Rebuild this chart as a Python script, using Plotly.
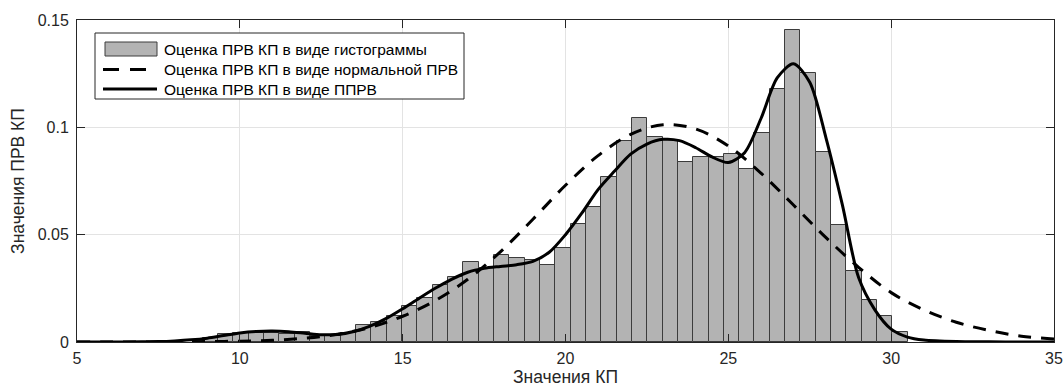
import plotly.graph_objects as go

# ---------------- data ----------------
bin_start = 8.858
bin_width = 0.4707
hist_values = [0.0020, 0.0039, 0.0044, 0.0042, 0.0044, 0.0038, 0.0045, 0.0027, 0.0027, 0.0040,
               0.0078, 0.0093, 0.0120, 0.0168, 0.0207, 0.0265, 0.0304, 0.0371, 0.0343, 0.0405,
               0.0393, 0.0382, 0.0358, 0.0439, 0.0548, 0.0630, 0.0768, 0.0938, 0.1042, 0.0956,
               0.0942, 0.0840, 0.0864, 0.0860, 0.0877, 0.0807, 0.0973, 0.1179, 0.1452, 0.1251,
               0.0883, 0.0543, 0.0330, 0.0194, 0.0121, 0.0045]

normal_x = [5, 6, 7, 8, 9, 10, 11, 12, 13, 14, 15, 16, 17, 18, 19, 20,
            21, 22, 23, 24, 25, 26, 27, 28, 29, 30, 31, 32, 33, 34, 35]
normal_y = [0.0000, 0.0000, 0.0000, 0.0001, 0.0002, 0.0004, 0.0008, 0.0018, 0.0036, 0.0068,
            0.0120, 0.0193, 0.0292, 0.0420, 0.0572, 0.0730, 0.0868, 0.0967, 0.1012, 0.0992,
            0.0913, 0.0787, 0.0638, 0.0486, 0.0348, 0.0230, 0.0150, 0.0092, 0.0054, 0.0027, 0.0014]

kde_x = [5, 6, 7, 7.5, 8, 8.5, 9, 9.5, 10, 10.5, 11, 11.5, 12, 12.5, 13, 13.5, 14, 14.5,
         15, 15.5, 16, 16.5, 17, 17.5, 18, 18.5, 19, 19.5, 20, 20.5, 21, 21.5, 22, 22.5,
         23, 23.5, 24, 24.5, 25, 25.5, 26, 26.5, 27, 27.5, 28, 28.5, 29, 29.5, 30, 30.5,
         31, 32, 33, 34, 35]
kde_y = [0.0000, 0.0000, 0.0001, 0.0002, 0.0005, 0.0010, 0.0018, 0.0030, 0.0042, 0.0049,
         0.0051, 0.0048, 0.0041, 0.0034, 0.0035, 0.0049, 0.0074, 0.0110, 0.0155, 0.0203,
         0.0250, 0.0292, 0.0325, 0.0343, 0.0352, 0.0360, 0.0376, 0.0418, 0.0500, 0.0600,
         0.0710, 0.0795, 0.0875, 0.0922, 0.0944, 0.0938, 0.0905, 0.0862, 0.0836, 0.0882,
         0.1040, 0.1230, 0.1296, 0.1210, 0.0950, 0.0640, 0.0300, 0.0150, 0.0060, 0.0023,
         0.0009, 0.0002, 0.0001, 0.0000, 0.0000]

legend_labels = ["Оценка ПРВ КП в виде гистограммы",
                 "Оценка ПРВ КП в виде нормальной ПРВ",
                 "Оценка ПРВ КП в виде ППРВ"]
x_title = "Значения КП"
y_title = "Значения ПРВ КП"
x_ticks = [5, 10, 15, 20, 25, 30, 35]
y_ticks = [0, 0.05, 0.1, 0.15]
y_ticklabels = ["0", "0.05", "0.1", "0.15"]

# ---------------- figure ----------------
centers = [bin_start + (i + 0.5) * bin_width for i in range(len(hist_values))]

FONT = "Liberation Sans, Arial, sans-serif"
TXT = "#262626"

fig = go.Figure()
fig.add_trace(go.Bar(x=centers, y=hist_values, width=bin_width,
                     marker=dict(color="#b3b3b3", line=dict(color="#3c3c3c", width=1)),
                     name=legend_labels[0]))
fig.add_trace(go.Scatter(x=normal_x, y=normal_y, mode="lines",
                         line=dict(color="black", width=3, dash="13px,10px", shape="spline"),
                         name=legend_labels[1]))
fig.add_trace(go.Scatter(x=kde_x, y=kde_y, mode="lines",
                         line=dict(color="black", width=3, shape="spline", smoothing=0.8),
                         name=legend_labels[2]))

L, R, T, B = 77, 1054, 20, 342          # plot box in page pixels
W, H = R - L, B - T
FIG_W, FIG_H = 1064, 390


def px_x(p):
    return (p - L) / W


def px_y(p):
    return (B - p) / H


shapes = [
    dict(type="rect", xref="paper", yref="paper", x0=px_x(95), x1=px_x(464), y0=px_y(99), y1=px_y(33),
         line=dict(color=TXT, width=1), fillcolor="white", layer="above"),
    dict(type="rect", xref="paper", yref="paper", x0=px_x(105), x1=px_x(157), y0=px_y(56), y1=px_y(42),
         line=dict(color="#3c3c3c", width=1), fillcolor="#b3b3b3", layer="above"),
    dict(type="line", xref="paper", yref="paper", x0=px_x(103), x1=px_x(157), y0=px_y(69.5), y1=px_y(69.5),
         line=dict(color="black", width=3, dash="16px,11px"), layer="above"),
    dict(type="line", xref="paper", yref="paper", x0=px_x(103), x1=px_x(157), y0=px_y(89), y1=px_y(89),
         line=dict(color="black", width=3), layer="above"),
]
annotations = []
for lab, yc in zip(legend_labels, [49, 69.5, 89]):
    annotations.append(dict(xref="paper", yref="paper", x=px_x(162), y=px_y(yc), text=lab,
                            showarrow=False, xanchor="left", yanchor="middle",
                            font=dict(family=FONT, size=15.5, color="black")))

fig.update_layout(
    width=FIG_W, height=FIG_H,
    margin=dict(l=L, r=FIG_W - R, t=T, b=FIG_H - B),
    paper_bgcolor="white", plot_bgcolor="white",
    showlegend=False, bargap=0,
    font=dict(family=FONT, size=16, color=TXT),
    shapes=shapes, annotations=annotations,
)
fig.update_xaxes(range=[5, 35], tickvals=x_ticks, ticks="inside", ticklen=8, tickcolor=TXT,
                 showline=True, linecolor=TXT, linewidth=1, mirror="ticks", automargin=False,
                 showgrid=True, gridcolor="#e3e3e3", gridwidth=1, zeroline=False,
                 tickfont=dict(family=FONT, size=16, color=TXT), ticklabelstandoff=2,
                 title=dict(text=x_title, standoff=4, font=dict(family=FONT, size=17.5, color=TXT)))
fig.update_yaxes(range=[0, 0.15], tickvals=y_ticks, ticktext=y_ticklabels, ticks="inside",
                 ticklen=8, tickcolor=TXT, automargin=False,
                 showline=True, linecolor=TXT, linewidth=1, mirror="ticks",
                 showgrid=True, gridcolor="#e3e3e3", gridwidth=1, zeroline=False,
                 tickfont=dict(family=FONT, size=16, color=TXT), ticklabelstandoff=4,
                 title=dict(text=y_title, standoff=8, font=dict(family=FONT, size=17.5, color=TXT)))

fig.write_html("out.html", config={"displayModeBar": False},
               post_script="document.body.style.margin='0';document.body.style.overflow='hidden';")
